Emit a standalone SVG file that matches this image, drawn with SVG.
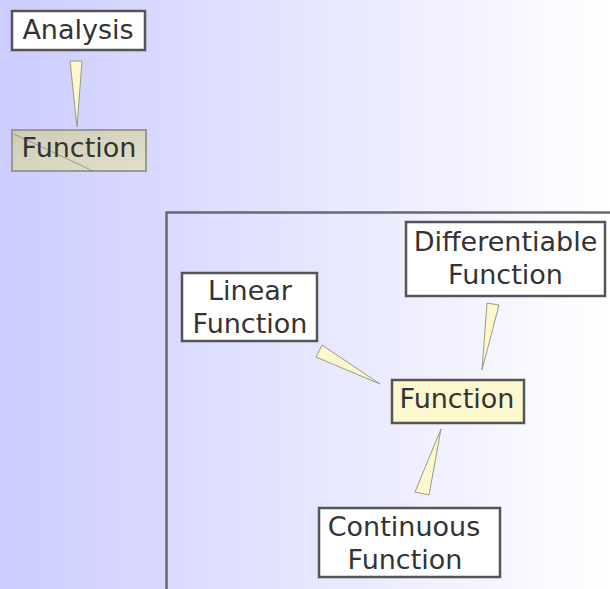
<svg xmlns="http://www.w3.org/2000/svg" width="610" height="589" viewBox="0 0 610 589">
<defs>
<linearGradient id="bg" x1="0" y1="0" x2="1" y2="0">
<stop offset="0" stop-color="#ccccff"/>
<stop offset="1" stop-color="#ffffff"/>
</linearGradient>
<linearGradient id="grey" x1="0" y1="0" x2="1" y2="1">
<stop offset="0" stop-color="#cfccb4"/>
<stop offset="1" stop-color="#e2e0cc"/>
</linearGradient>
</defs>
<style>
.box{fill:#ffffff;stroke:#555555;stroke-width:2.5}
.hl{fill:#fcf7cd;stroke:#555555;stroke-width:2.5}
.gr{fill:url(#grey);stroke:#9a9a8e;stroke-width:2}
.t{font-family:"DejaVu Sans",sans-serif;font-size:27px;fill:#333333;text-anchor:middle}
.wedge{fill:#fdf8cc;stroke:#9a9a8a;stroke-width:1}
.frame{fill:none;stroke:#6a6a6a;stroke-width:2.5}
</style>
<rect x="0" y="0" width="610" height="589" fill="url(#bg)"/>
<path class="frame" d="M166.5 589 V212.5 H610"/>
<g id="connectors">
<polygon class="wedge" points="70,61 82,61 77,127"/>
<polygon class="wedge" points="322,345 316,357 380,384"/>
<polygon class="wedge" points="487,303 499,305 482,370"/>
<polygon class="wedge" points="415,492 429,495 441,429"/>
</g>
<g id="analysis">
<rect class="box" x="12" y="11" width="133" height="39"/>
<text class="t" x="78" y="39">Analysis</text>
</g>
<g id="function-top">
<rect class="gr" x="12" y="130" width="134" height="41"/>
<line x1="14" y1="134" x2="93" y2="171" stroke="#8a887a" stroke-width="0.8"/>
<text class="t" x="79" y="157">Function</text>
</g>
<g id="linear">
<rect class="box" x="182" y="273" width="135" height="68"/>
<text class="t" x="250" y="300">Linear</text>
<text class="t" x="250" y="333">Function</text>
</g>
<g id="differentiable">
<rect class="box" x="406" y="222" width="199" height="74"/>
<text class="t" x="505.5" y="251">Differentiable</text>
<text class="t" x="505.5" y="284">Function</text>
</g>
<g id="function-center">
<rect class="hl" x="392" y="380" width="132" height="43"/>
<text class="t" x="457" y="408">Function</text>
</g>
<g id="continuous">
<rect class="box" x="319" y="508" width="181" height="69"/>
<text class="t" x="404" y="536">Continuous</text>
<text class="t" x="405" y="569">Function</text>
</g>
</svg>
